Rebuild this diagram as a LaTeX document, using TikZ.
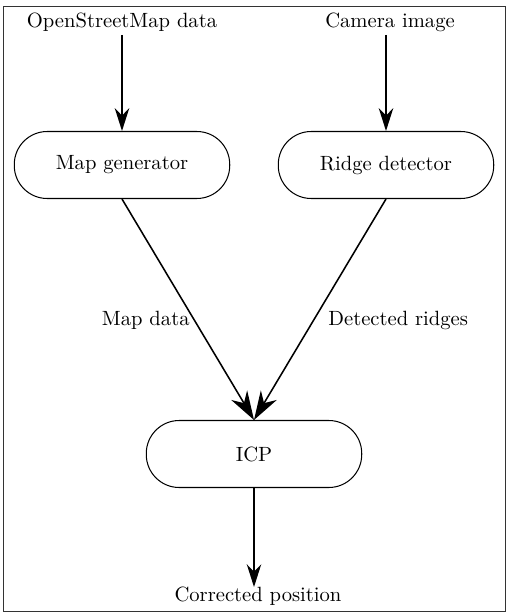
\documentclass[tikz,border=0pt]{standalone}
\usetikzlibrary{arrows.meta}
\begin{document}
\begin{tikzpicture}[x=0.485pt,y=-0.485pt,
  box/.style={draw,line width=0.5pt,rounded corners=16pt,minimum width=104.5pt,minimum height=32.5pt,inner sep=0pt},
  lbl/.style={inner sep=0pt},
  flow/.style={line width=0.75pt,-{Stealth[length=11pt,width=7pt,inset=3.5pt]}},
  bigflow/.style={line width=0.75pt,-{Stealth[length=14pt,width=9pt,inset=4.5pt]}}]
\useasboundingbox (0,0) rectangle (511,615);
\draw[line width=0.4pt,black!80] (3,6) rectangle (505,611);
\node[lbl] (osm) at (122,22) {OpenStreetMap data};
\node[lbl] (cam) at (390,22) {Camera image};
\node[box] (mapgen) at (122,165) {Map generator};
\node[box] (ridge) at (386,165) {Ridge detector};
\node[box] (icp) at (254,454) {ICP};
\node[lbl] (out) at (258,596) {Corrected position};
\coordinate (osmb) at (122,35);
\coordinate (camb) at (386,35);
\coordinate (outt) at (254,587);
\draw[flow] (osmb) -- (mapgen.north);
\draw[flow] (camb) -- (ridge.north);
\draw[bigflow] (mapgen.south) -- (icp.north);
\draw[bigflow] (ridge.south) -- (icp.north);
\draw[flow] (icp.south) -- (outt);
\node[lbl,anchor=east] (mdl) at (190,320) {Map data};
\node[lbl,anchor=west] (drl) at (328,320) {Detected ridges};
\end{tikzpicture}
\end{document}
